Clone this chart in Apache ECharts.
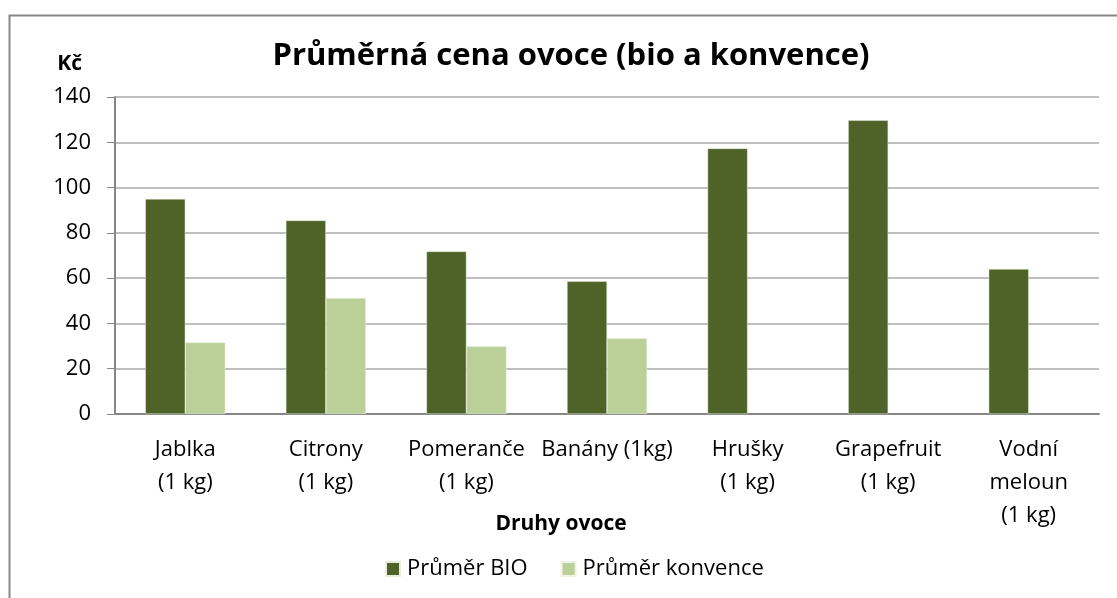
<!DOCTYPE html>
<html lang="cs">

<head>
    <meta charset="UTF-8">
    <title>Průměrná cena ovoce</title>
    <style>
        html, body { margin: 0; padding: 0; background: #fff; }
        #chart { width: 1117px; height: 598px; }
    </style>
</head>

<body>
    <div id="chart"></div>
    <script src="https://cdn.jsdelivr.net/npm/echarts@6/dist/echarts.min.js"></script>
    <script>
        var categories = ['Jablka\n(1 kg)', 'Citrony\n(1 kg)', 'Pomeranče\n(1 kg)', 'Banány (1kg)', 'Hrušky\n(1 kg)', 'Grapefruit\n(1 kg)', 'Vodní\nmeloun\n(1 kg)']
        var prumerBio = [95, 85.5, 71.8, 58.6, 117.3, 129.7, 64]
        var prumerKonvence = [31.6, 51.2, 29.9, 33.4, null, null, null]
        var yTicks = [0, 20, 40, 60, 80, 100, 120, 140]

        var font = '"Open Sans", "Noto Sans", sans-serif'
        var myChart = echarts.init(document.getElementById('chart'))

        option = {
            animation: false,
            textStyle: { fontFamily: font },
            title: {
                text: 'Průměrná cena ovoce (bio a konvence)',
                left: 566,
                top: 36,
                textAlign: 'center',
                textStyle: { fontSize: 31, fontWeight: 'bold', color: '#000', fontFamily: font }
            },
            legend: {
                top: 553,
                left: 380,
                itemWidth: 14,
                itemHeight: 14,
                itemGap: 33,
                icon: 'rect',
                textStyle: { fontSize: 22, color: '#000', fontFamily: font, padding: [0, 0, 0, 2] },
                data: ['Průměr BIO', 'Průměr konvence']
            },
            grid: { left: 115, right: 18, top: 97, bottom: 184 },
            xAxis: {
                type: 'category',
                data: categories,
                axisLine: { lineStyle: { color: '#868686', width: 2 } },
                axisTick: { show: false },
                axisLabel: { color: '#000', fontSize: 22, lineHeight: 33, margin: 19, interval: 0, fontFamily: font }
            },
            yAxis: {
                type: 'value',
                min: yTicks[0],
                max: yTicks[yTicks.length - 1],
                interval: 20,
                name: 'Kč',
                nameLocation: 'end',
                nameGap: 22,
                nameTextStyle: { fontSize: 21, fontWeight: 'bold', color: '#000', align: 'right', padding: [0, 33, 0, 0], fontFamily: font },
                axisLine: { show: true, lineStyle: { color: '#868686', width: 2 } },
                axisTick: { show: true, length: 8, lineStyle: { color: '#868686', width: 1 } },
                axisLabel: { color: '#000', fontSize: 22, margin: 24, fontFamily: font },
                splitLine: { lineStyle: { color: '#bfbfbf', width: 2 } }
            },
            series: [
                {
                    name: 'Průměr BIO',
                    type: 'bar',
                    data: prumerBio,
                    barWidth: 40,
                    barGap: '0%',
                    itemStyle: { color: '#4f6228', borderColor: '#e8eedc', borderWidth: 0.5 }
                },
                {
                    name: 'Průměr konvence',
                    type: 'bar',
                    data: prumerKonvence,
                    barWidth: 40,
                    barGap: '0%',
                    itemStyle: { color: '#bbcf98', borderColor: '#eef3e4', borderWidth: 0.5 }
                }
            ],
            graphic: [
                {
                    type: 'rect',
                    shape: { x: 9.5, y: 15.5, width: 1200, height: 700 },
                    style: { fill: 'none', stroke: '#878787', lineWidth: 2 },
                    silent: true
                },
                {
                    type: 'text',
                    x: 561,
                    y: 524,
                    style: {
                        text: 'Druhy ovoce',
                        fontSize: 21,
                        fontWeight: 'bold',
                        fill: '#000',
                        fontFamily: font,
                        align: 'center',
                        verticalAlign: 'middle'
                    }
                }
            ]
        };
        myChart.setOption(option);
    </script>
</body>

</html>
